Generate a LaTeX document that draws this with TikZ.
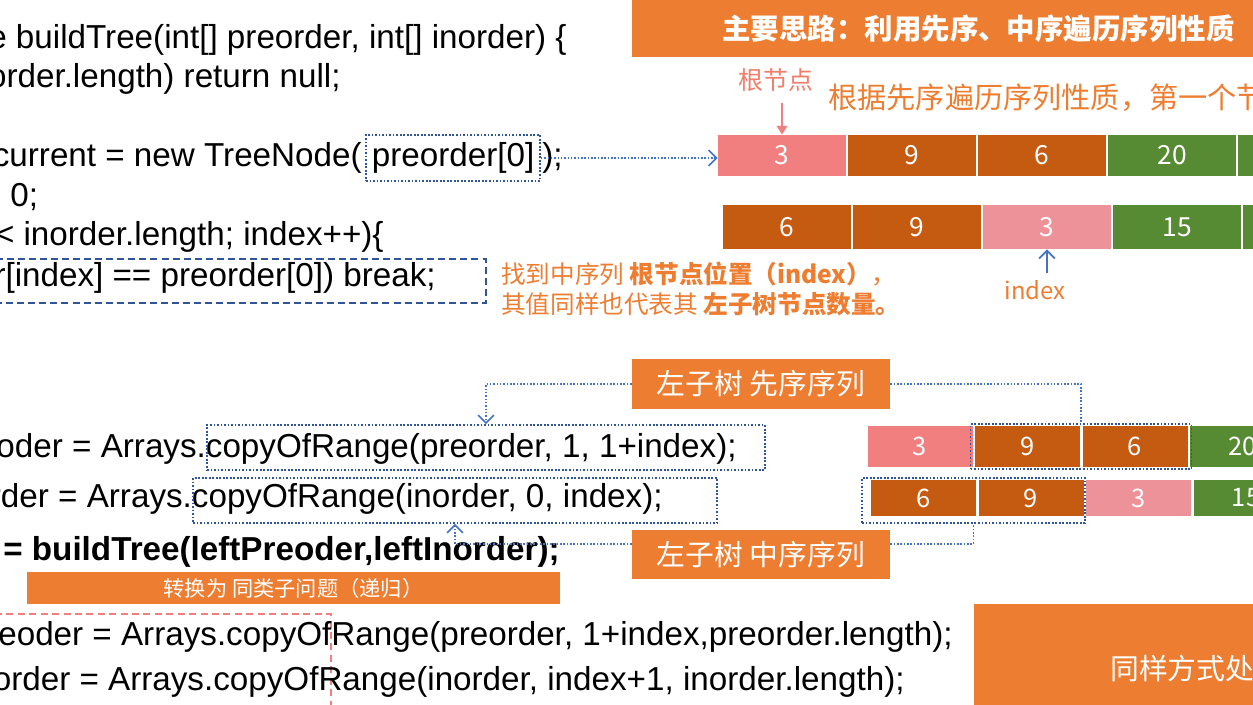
\documentclass[tikz,border=0pt]{standalone}
\usepackage{fontspec}
\setmainfont{Liberation Sans}
\newfontfamily\cjk{Noto Sans CJK SC}
\usetikzlibrary{arrows.meta,positioning,calc}
\definecolor{orng}{HTML}{ED7D31}
\definecolor{brn}{HTML}{C55A11}
\definecolor{grn}{HTML}{568B33}
\definecolor{pnk}{HTML}{F17F7F}
\definecolor{pkb}{HTML}{EE929A}
\definecolor{lblu}{HTML}{4472C4}
\definecolor{dblu}{HTML}{2F5597}
\definecolor{salm}{HTML}{EE7F6A}

\begin{document}
\begin{tikzpicture}[x=0.02cm, y=-0.02cm,
>={Straight Barb[length=4.5pt,width=9pt]},
cde/.style={font=\fontsize{18.9}{22}\selectfont, inner sep=0, anchor=base east},
cel/.style={text=white, inner sep=0, minimum width=2.56cm, minimum height=0.82cm, font=\cjk\fontsize{15}{18}\selectfont},
scel/.style={cel, minimum width=2.1cm, font=\cjk\fontsize{14.5}{17}\selectfont},
obx/.style={fill=orng, text=white, inner sep=0, font=\cjk\fontsize{16.4}{20}\selectfont},
dbx/.style={draw=dblu, densely dotted, line width=1pt, inner sep=0},
cnx/.style={draw=lblu, densely dotted, line width=0.9pt},
note/.style={text=orng, inner sep=0, anchor=west, font=\cjk\fontsize{14}{16}\selectfont}
]
\useasboundingbox (0,0) rectangle (1253,705);
\clip (0,0) rectangle (1253,705);
% Banner
\node[obx, anchor=north west, minimum width=12.6cm, minimum height=1.14cm] (ban) at (632,0) {};
\node[anchor=west, inner sep=0, text=white, font=\cjk\bfseries\fontsize{16.2}{19}\selectfont] (bant) at (722,29) {主要思路：利用先序、中序遍历序列性质};
% Code, upper part
\node[cde] (l1) at (567,49) {e buildTree(int[] preorder, int[] inorder) \{};
\node[cde] (l2) at (341,88) {order.length) return null;};
\node[cde] (l4) at (362,167) {current = new TreeNode(};
\node[dbx, minimum width=3.48cm, minimum height=0.92cm] (pbx) at (453,158) {};
\node[cde, anchor=base west] (l4b) at (371.5,167) {preorder[0]};
\node[cde, anchor=base west] (l4c) at (542,167) {);};
\node[cde, anchor=base west] (l5) at (10,207) {0;};
\node[cde] (l6) at (384,246) {< inorder.length; index++)\{};
\node[cde] (l7) at (436,287) {r[index] == preorder[0]) break;};
\node[draw=dblu, dash pattern=on 4pt off 2.3pt, line width=0.9pt, inner sep=0, minimum width=9.82cm, minimum height=0.88cm] (brk) at (240.5,281) {};
\node[note] (n1) at (501,274) {找到中序列 \textbf{根节点位置（index）}，};
\node[note] (n2) at (501,304) {其值同样也代表其 \textbf{左子树节点数量。}};
% Preorder and inorder arrays
\node[text=salm, inner sep=0, font=\cjk\fontsize{14.2}{16}\selectfont] (gen) at (776,80) {根节点};
\node[note, font=\cjk\fontsize{16.6}{19}\selectfont] (prop) at (828,98) {根据先序遍历序列性质，第一个节};
\foreach \v/\c [count=\i] in {3/pnk,9/brn,6/brn,20/grn,{}/grn}
  \node[cel, fill=\c] (p\i) at ({782+130*(\i-1)},155.5) {\v};
\foreach \v/\c [count=\i] in {6/brn,9/brn,3/pkb,15/grn,{}/grn}
  \node[cel, fill=\c, minimum height=0.88cm] (i\i) at ({787+130*(\i-1)},227) {\v};
\node[text=orng, inner sep=0, font=\cjk\fontsize{13.6}{16}\selectfont] (idx) at (1035,290) {index};
\draw[pnk, line width=1pt, -{Triangle[length=5pt,width=6pt]}] ($(gen.south -| p1.north)+(0,11)$) -- (p1.north);
\draw[lblu, line width=1pt, ->] ($(idx.north -| i3.south)+(0,-7)$) -- (i3.south);
\draw[cnx, ->] (pbx.east) -- (pbx.east -| p1.west);
% Code, lower part
\node[obx, minimum width=5.16cm, minimum height=1cm] (lpre) at (761,384) {左子树 先序序列};
\node[obx, minimum width=5.16cm, minimum height=1cm] (lino) at (761,554.5) {左子树 中序序列};
\node[cde] (la) at (737,457) {oder = Arrays.copyOfRange(preorder, 1, 1+index);};
\node[cde] (lb) at (663,507) {rder = Arrays.copyOfRange(inorder, 0, index);};
\node[cde, font=\bfseries\fontsize{18.9}{22}\selectfont] (lc) at (560,560) {= buildTree(leftPreoder,leftInorder);};
\node[dbx, minimum width=11.16cm, minimum height=0.9cm] (cpa) at (486,447.5) {};
\node[dbx, minimum width=10.48cm, minimum height=0.9cm] (cpb) at (455,500.5) {};
\node[obx, minimum width=10.66cm, minimum height=0.64cm, font=\cjk\fontsize{12.1}{14}\selectfont] (conv) at (293.5,588) {转换为 同类子问题（递归）};
\draw[pnk, dash pattern=on 4pt off 2.5pt, line width=0.9pt] (-5,614) -| (331,720);
\node[cde] (ld) at (953,645) {eoder = Arrays.copyOfRange(preorder, 1+index,preorder.length);};
\node[cde] (le) at (905,690) {order = Arrays.copyOfRange(inorder, index+1, inorder.length);};
% Split arrays
\foreach \v/\c [count=\i] in {3/pnk,9/brn,6/brn,20/grn}
  \node[scel, fill=\c] (a\i) at ({920+107.5*(\i-1)},446.5) {\v};
\foreach \v/\c [count=\i] in {6/brn,9/brn,3/pkb,15/grn}
  \node[scel, fill=\c, minimum height=0.72cm] (b\i) at ({923.5+107.5*(\i-1)},498) {\v};
\node[dbx, minimum width=4.42cm, minimum height=0.9cm] (sba) at (1081,446.5) {};
\node[dbx, minimum width=4.46cm, minimum height=0.9cm] (sbb) at (973.5,500.5) {};
\draw[cnx, ->] (lpre.west) -| (cpa.north);
\draw[cnx] (lpre.east) -| (sba.north);
\draw[cnx, ->] ([yshift=0.21cm]lino.west) -| (cpb.south);
\draw[cnx] ([yshift=0.21cm]lino.east) -| (sbb.south);
% Right box
\node[obx, anchor=north west, minimum width=6cm, minimum height=2.2cm] (same) at (974,604) {};
\node[inner sep=0, anchor=west, text=white, font=\cjk\fontsize{16.4}{19}\selectfont] (samet) at (1110,668) {同样方式处};
\end{tikzpicture}
\end{document}
